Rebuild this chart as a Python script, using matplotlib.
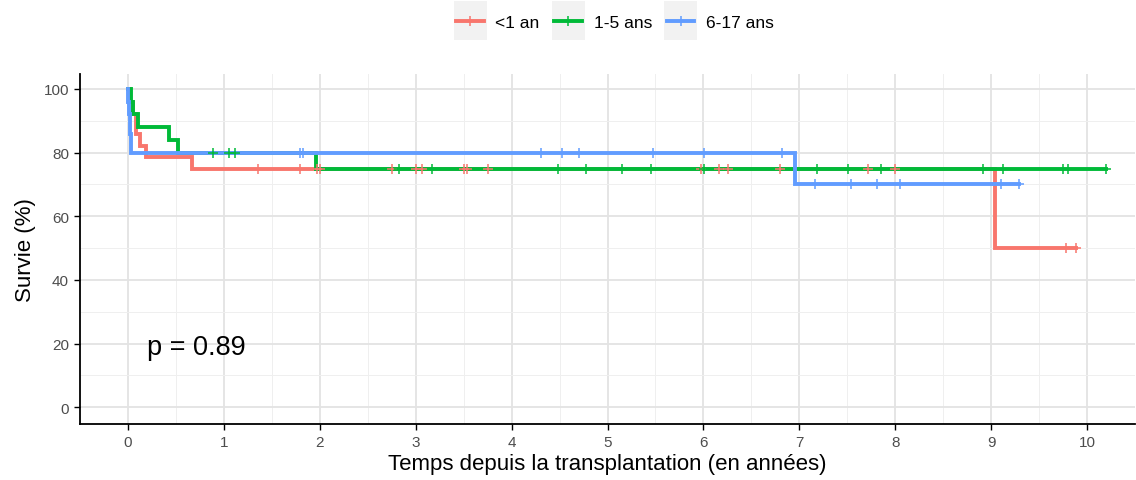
import matplotlib
matplotlib.use("Agg")
import matplotlib.pyplot as plt
from matplotlib.legend_handler import HandlerLine2D
from matplotlib.patches import Rectangle
from matplotlib.lines import Line2D

plt.rcParams['font.family'] = ['Liberation Sans', 'DejaVu Sans']

groups = ["<1 an", "1-5 ans", "6-17 ans"]
colors = ["#F8766D", "#00BA38", "#619CFF"]

# Step curves: event times and survival (%) after each time
red_t = [0, 0.02, 0.05, 0.08, 0.13, 0.19, 0.67, 9.04]
red_s = [100, 96, 92, 86, 82, 78.6, 75, 50]
red_end = 9.88
red_cens = [1.36, 1.79, 1.97, 2.0, 2.75, 3.0, 3.07, 3.5, 3.53, 3.75,
            5.97, 6.16, 6.26, 6.80, 7.72, 8.0, 9.78, 9.88]

green_t = [0, 0.03, 0.05, 0.1, 0.43, 0.52, 1.96]
green_s = [100, 96, 92, 88, 84, 80, 75]
green_end = 10.2
green_cens = [0.89, 1.05, 1.12, 2.83, 3.17, 4.48, 4.78, 5.15, 5.45, 6.01,
              7.18, 7.51, 7.85, 8.92, 9.12, 9.75, 9.8, 10.2]

blue_t = [0, 0.005, 0.01, 0.02, 0.035, 6.96]
blue_s = [100, 96, 92, 86, 80, 70]
blue_end = 9.29
blue_cens = [1.79, 1.82, 4.31, 4.53, 4.70, 5.47, 6.01, 6.82, 7.16, 7.54,
             7.81, 8.05, 9.1, 9.29]

x_ticks = list(range(0, 11))
y_ticks = [0, 20, 40, 60, 80, 100]
p_text = "p = 0.89"

fig = plt.figure(figsize=(11.36, 4.81), dpi=100)
ax = fig.add_axes([80/1136, 56/481, 1055/1136, 350/481])

curves = [(red_t, red_s, red_end, red_cens),
          (green_t, green_s, green_end, green_cens),
          (blue_t, blue_s, blue_end, blue_cens)]


def surv_at(t_list, s_list, t):
    val = s_list[0]
    for ti, si in zip(t_list, s_list):
        if ti <= t:
            val = si
    return val


handles = []
for (t, s, end, cens), col, lab in zip(curves, colors, groups):
    xs = list(t) + [end]
    ys = list(s) + [s[-1]]
    ax.step(xs, ys, where='post', color=col, lw=2.8, zorder=3,
            solid_joinstyle='miter')
    cy = [surv_at(t, s, c) for c in cens]
    ax.plot(cens, cy, ls='none', marker='+', ms=7, mew=1.1, color=col, zorder=4)
    handles.append(Line2D([], [], color=col, lw=2.8, marker='+', ms=7, mew=1.1,
                          label=lab))

ax.set_xlim(-0.50, 10.44)
ax.set_ylim(-5.3, 104.7)
ax.set_xticks(x_ticks)
ax.set_yticks(y_ticks)
ax.set_xticks([x + 0.5 for x in range(-1, 11)], minor=True)
ax.set_yticks([10, 30, 50, 70, 90], minor=True)
ax.grid(which='major', color='#E3E3E3', lw=1.3, zorder=0)
ax.grid(which='minor', color='#EFEFEF', lw=0.7, zorder=0)
ax.set_axisbelow(True)
ax.tick_params(which='minor', length=0)
ax.tick_params(which='major', length=4, width=1, color='black',
               labelsize=11, labelcolor='#4D4D4D', pad=4)

for side in ['top', 'right']:
    ax.spines[side].set_visible(False)
for side in ['left', 'bottom']:
    ax.spines[side].set_linewidth(1.3)
    ax.spines[side].set_color('black')

ax.set_xlabel("Temps depuis la transplantation (en années)", fontsize=16, labelpad=3)
ax.set_ylabel("Survie (%)", fontsize=16, labelpad=5)

ax.text(0.2, 19, p_text, fontsize=19.5, ha='left', va='center', color='black')


class KeyHandler(HandlerLine2D):
    def create_artists(self, legend, orig_handle, xdescent, ydescent,
                       width, height, fontsize, trans):
        arts = super().create_artists(legend, orig_handle, xdescent, ydescent,
                                      width, height, fontsize, trans)
        padx = 2
        pady = 9.5
        rect = Rectangle((-xdescent - padx, -ydescent - pady),
                         width + 2 * padx, height + 2 * pady,
                         facecolor='#F2F2F2', edgecolor='none', transform=trans)
        return [rect] + list(arts)


fig.legend(handles=handles, loc='center', ncol=3,
           bbox_to_anchor=(615/1136, 1 - 23/481), frameon=False,
           fontsize=12.5, handlelength=1.6, handletextpad=0.65,
           columnspacing=0.85,
           handler_map={Line2D: KeyHandler(numpoints=1)})

fig.savefig("out.png", dpi=100)
